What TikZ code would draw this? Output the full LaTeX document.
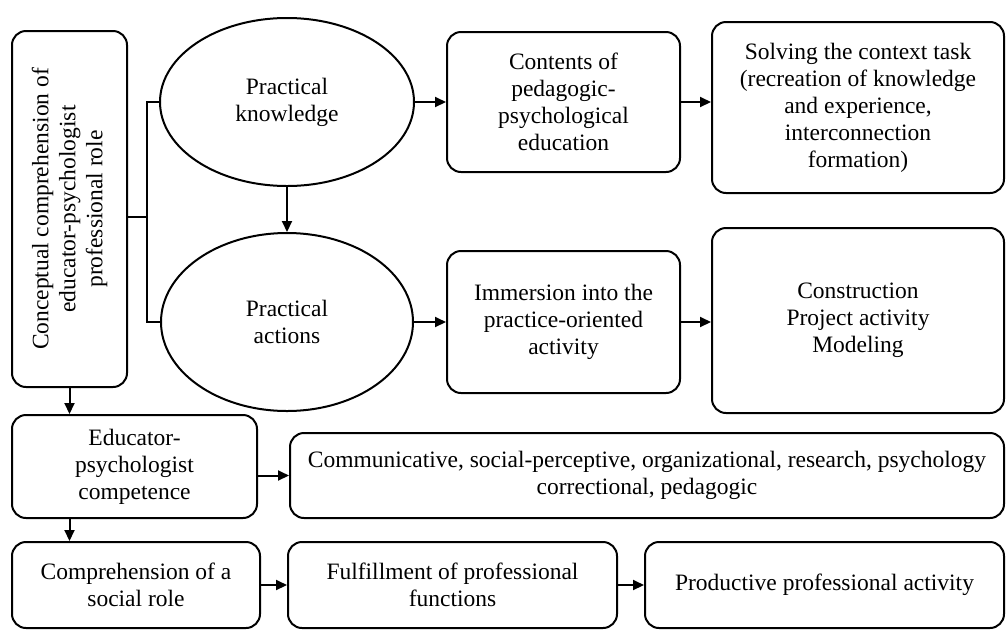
\documentclass[tikz,border=0pt]{standalone}
\usepackage{fontspec}
\setmainfont{Liberation Serif}
\usetikzlibrary{shapes.geometric,arrows.meta}
\begin{document}
\begin{tikzpicture}[x=1pt, y=-1pt, line width=2pt,
		every node/.style={align=center, inner sep=0pt, font=\fontsize{23.5}{27}\selectfont},
		bx/.style={draw, rounded corners=14pt},
		el/.style={draw, ellipse},
		every edge/.style={draw, -{Triangle[length=11pt, width=10pt]}}]
	\useasboundingbox (0,0) rectangle (1006,630);

	\node[bx, rotate=90, minimum width=356, minimum height=115] (cc) at (69.5,209) {Conceptual comprehension of\\educator-psychologist\\professional role};
	\node[el, minimum width=254, minimum height=168] (ek) at (287,102) {Practical\\knowledge};
	\node[el, minimum width=252, minimum height=178] (ea) at (287,322) {Practical\\actions};
	\node[bx, minimum width=233, minimum height=140] (cont) at (563.5,102) {Contents of\\pedagogic-\\psychological\\education};
	\node[bx, minimum width=233, minimum height=142] (imm) at (563.5,322) {Immersion into the\\practice-oriented\\activity};
	\node[bx, minimum width=292, minimum height=171] (solv) at (858,107.5) {Solving the context task\\(recreation of knowledge\\and experience,\\interconnection\\formation)};
	\node[bx, minimum width=292, minimum height=185] (cons) at (858,320.5) {Construction\\Project activity\\Modeling};
	\node[bx, minimum width=245, minimum height=103] (comp) at (134.5,466.5) {Educator-\\psychologist\\competence};
	\node[bx, minimum width=714, minimum height=85] (comm) at (647,475.5) {Communicative, social-perceptive, organizational, research, psychology\\correctional, pedagogic};
	\node[bx, minimum width=248, minimum height=86] (soc) at (136,585) {Comprehension of a\\social role};
	\node[bx, minimum width=329, minimum height=86] (fulf) at (452.5,585) {Fulfillment of professional\\functions};
	\node[bx, minimum width=359, minimum height=86] (prod) at (824.5,585) {Productive professional activity};

	\coordinate (br) at (147,217);
	\draw (cc.south |- br) -- (br);
	\draw (ek) -| (br) |- (ea);

	\draw (ek) edge (ea);
	\draw (ek) edge (cont);
	\draw (ea) edge (imm);
	\draw (cont) edge (cont -| solv.west);
	\draw (imm) edge (imm -| cons.west);
	\draw (cc.west) edge (cc.west |- comp.north);
	\draw (comp.east |- comm) edge (comm);
	\draw (cc.west |- comp.south) edge (cc.west |- soc.north);
	\draw (soc) edge (fulf);
	\draw (fulf) edge (prod);
\end{tikzpicture}
\end{document}
